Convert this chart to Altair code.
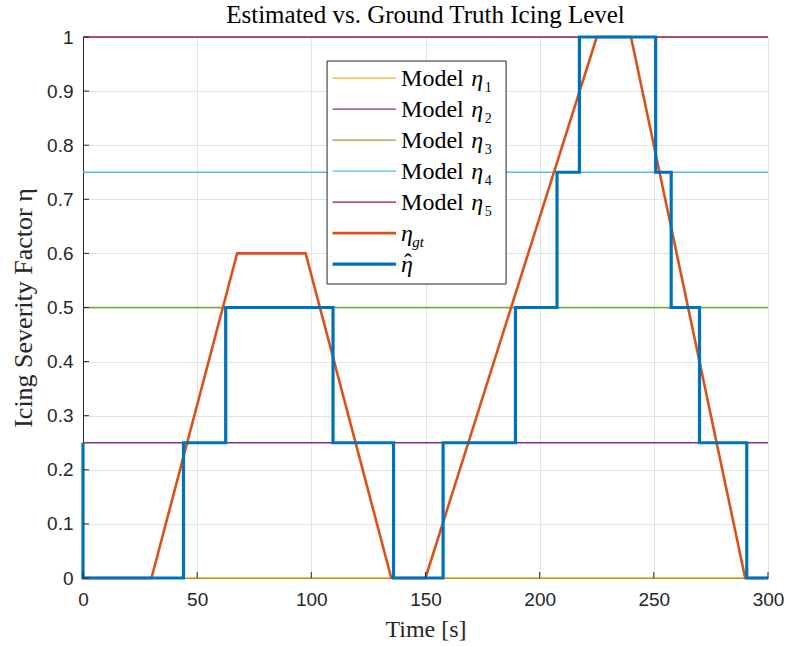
import altair as alt
import pandas as pd

# ---------------- data ----------------
t_gt = [0, 30, 67.5, 97.5, 135, 150, 225, 240, 290, 300]
eta_gt = [0, 0, 0.6, 0.6, 0, 0, 1, 1, 0, 0]

t_hat = [0, 0, 44, 44, 62.5, 62.5, 109.5, 109.5, 136, 136, 157.7, 157.7,
         189.4, 189.4, 207.6, 207.6, 217.4, 217.4, 250.8, 250.8, 257.6, 257.6,
         270, 270, 290.7, 290.7, 300]
eta_hat = [0.25, 0, 0, 0.25, 0.25, 0.5, 0.5, 0.25, 0.25, 0, 0, 0.25, 0.25,
           0.5, 0.5, 0.75, 0.75, 1, 1, 0.75, 0.75, 0.5, 0.5, 0.25, 0.25, 0, 0]

model_names = ["Model η1", "Model η2", "Model η3", "Model η4", "Model η5"]
model_levels = [0, 0.25, 0.5, 0.75, 1.0]
model_subs = ["1", "2", "3", "4", "5"]
t_span = [0, 300]

x_ticks = [0, 50, 100, 150, 200, 250, 300]
y_ticks = [0, 0.1, 0.2, 0.3, 0.4, 0.5, 0.6, 0.7, 0.8, 0.9, 1.0]

# ---------------- styles ----------------
model_colors = ["#EDB120", "#7E2F8E", "#77AC30", "#4DBEEE", "#A2142F"]
GT_COLOR = "#D95319"
HAT_COLOR = "#0072BD"
AX = "#262626"
SERIF = "Liberation Serif"
SANS = "Liberation Sans"
W, H = 685, 541

xs = alt.Scale(domain=[0, 300], nice=False, zero=False)
ys = alt.Scale(domain=[0, 1], nice=False, zero=False)

rows = []
for name, lvl in zip(model_names, model_levels):
    for i, t in enumerate(t_span):
        rows.append({"series": name, "t": t, "v": lvl, "o": i})
for i, (t, v) in enumerate(zip(t_gt, eta_gt)):
    rows.append({"series": "gt", "t": t, "v": v, "o": i})
for i, (t, v) in enumerate(zip(t_hat, eta_hat)):
    rows.append({"series": "hat", "t": t, "v": v, "o": i})
df = pd.DataFrame(rows)

color_scale = alt.Scale(domain=model_names + ["gt", "hat"],
                        range=model_colors + [GT_COLOR, HAT_COLOR])

def series_line(names, width):
    return alt.Chart(df).transform_filter(
        alt.FieldOneOfPredicate(field="series", oneOf=names)
    ).mark_line(strokeWidth=width, clip=False, strokeJoin="miter").encode(
        x=alt.X("t:Q", scale=xs, axis=alt.Axis(
            values=x_ticks, grid=True, gridColor="#E3E3E3", ticks=False,
            domainColor=AX, labelColor=AX, labelFont=SANS, labelFontSize=19,
            labelPadding=12, title="Time [s]", titleFont=SERIF, titleFontSize=24,
            titleFontWeight="normal", titleColor=AX, titlePadding=8,
            labelFlush=False)),
        y=alt.Y("v:Q", scale=ys, axis=alt.Axis(
            values=y_ticks, grid=True, gridColor="#E3E3E3", ticks=False,
            domainColor=AX, labelColor=AX, labelFont=SANS, labelFontSize=19,
            labelPadding=10, title="Icing Severity Factor η", titleFont=SERIF,
            titleFontSize=26, titleFontWeight="normal", titleColor=AX,
            titlePadding=10, labelFlush=False, format=".1~f")),
        color=alt.Color("series:N", scale=color_scale, legend=None),
        detail="series:N",
        order="o:Q",
    )

models = series_line(model_names, 1.3)
gt = series_line(["gt"], 2.6)
hat = series_line(["hat"], 3.2)

xt = alt.Chart(pd.DataFrame({"t": x_ticks})).mark_rule(color=AX, strokeWidth=1).encode(
    x=alt.X("t:Q", scale=xs), y=alt.value(H), y2=alt.value(H - 6))
yt = alt.Chart(pd.DataFrame({"v": y_ticks})).mark_rule(color=AX, strokeWidth=1).encode(
    y=alt.Y("v:Q", scale=ys), x=alt.value(0), x2=alt.value(6))

# ---------------- legend (in data coordinates) ----------------
LX0, LX1, LY0, LY1 = 106.9, 185.3, 0.5434, 0.9556
SX0, SX1 = 109.3, 137.1
TX = 139.3
ETA_X_MODEL = 170.0
SUB_X_MODEL = 175.9
SUB_X_GT = 144.2
HAT_X = 140.6
ROW0, STEP = 0.924, 0.0573

leg_names = model_names + ["gt", "hat"]
leg_widths = [1.3] * 5 + [2.6, 3.2]
ld = pd.DataFrame({
    "series": leg_names,
    "y": [ROW0 - i * STEP for i in range(7)],
    "sw": leg_widths,
    "x0": [SX0] * 7, "x1": [SX1] * 7, "tx": [TX] * 7,
    "model": ["Model"] * 5 + ["", ""],
    "eta": ["η"] * 7,
    "eta_x": [ETA_X_MODEL] * 5 + [TX, TX],
    "sub": model_subs + ["gt", ""],
    "sub_x": [SUB_X_MODEL] * 5 + [SUB_X_GT, SUB_X_GT],
    "italic_sub": [False] * 5 + [True, False],
    "hat": [""] * 6 + ["ˆ"],
    "hat_x": [HAT_X] * 7,
})

box = alt.Chart(pd.DataFrame({"a": [LX0], "b": [LX1], "c": [LY0], "d": [LY1]})).mark_rect(
    fill="white", stroke=AX, strokeWidth=1).encode(
    x=alt.X("a:Q", scale=xs), x2="b:Q", y=alt.Y("c:Q", scale=ys), y2="d:Q")

samples = alt.Chart(ld).mark_rule().encode(
    x=alt.X("x0:Q", scale=xs), x2="x1:Q", y=alt.Y("y:Q", scale=ys),
    color=alt.Color("series:N", scale=color_scale, legend=None),
    strokeWidth=alt.StrokeWidth("sw:Q", scale=None))

t_model = alt.Chart(ld).mark_text(font=SERIF, fontSize=24, align="left",
                                  baseline="middle", color="black", dy=1).encode(
    x=alt.X("tx:Q", scale=xs), y=alt.Y("y:Q", scale=ys), text="model:N")
t_eta = alt.Chart(ld).mark_text(font=SERIF, fontSize=24, fontStyle="italic",
                                align="left", baseline="middle", color="black", dy=1).encode(
    x=alt.X("eta_x:Q", scale=xs), y=alt.Y("y:Q", scale=ys), text="eta:N")
t_hat = alt.Chart(ld).mark_text(font=SERIF, fontSize=24, align="left",
                                baseline="middle", color="black", dy=-1).encode(
    x=alt.X("hat_x:Q", scale=xs), y=alt.Y("y:Q", scale=ys), text="hat:N")
t_sub = alt.Chart(ld).transform_filter("!datum.italic_sub").mark_text(
    font=SERIF, fontSize=14, align="left", baseline="middle", color="black", dy=10).encode(
    x=alt.X("sub_x:Q", scale=xs), y=alt.Y("y:Q", scale=ys), text="sub:N")
t_sub_i = alt.Chart(ld).transform_filter("datum.italic_sub").mark_text(
    font=SERIF, fontSize=15, fontStyle="italic", align="left", baseline="middle",
    color="black", dy=9).encode(
    x=alt.X("sub_x:Q", scale=xs), y=alt.Y("y:Q", scale=ys), text="sub:N")

chart = alt.layer(models, gt, hat, xt, yt, box, samples, t_model, t_eta, t_hat,
                  t_sub, t_sub_i).properties(
    width=W, height=H,
    title=alt.TitleParams("Estimated vs. Ground Truth Icing Level", font=SERIF,
                          fontSize=25, fontWeight="normal", color="black",
                          anchor="middle", offset=0),
    autosize=alt.AutoSizeParams(type="none"),
    padding={"left": 83, "top": 37, "right": 20, "bottom": 68},
).configure_view(stroke=None)

chart.save("out.html", embed_options={"renderer": "svg", "actions": False})
